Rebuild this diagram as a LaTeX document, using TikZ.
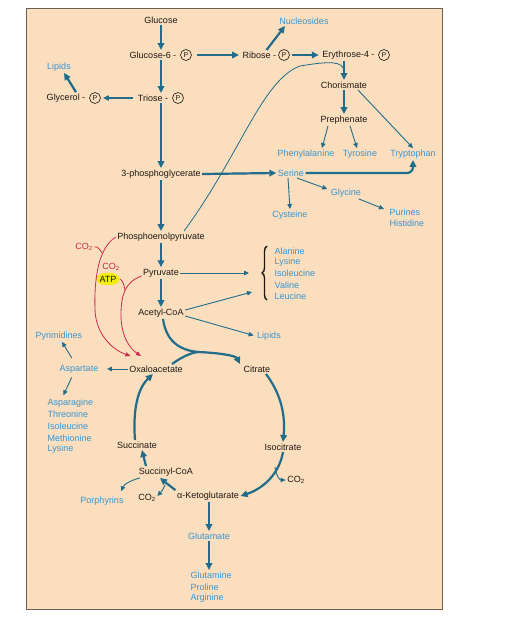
\documentclass[tikz,border=0pt]{standalone}
\usepackage{fontspec}
\setmainfont{Liberation Sans}
\usetikzlibrary{arrows.meta,calc,shapes.geometric,decorations.pathreplacing}
\definecolor{bg}{RGB}{250,222,190}
\definecolor{arr}{RGB}{32,108,138}
\definecolor{txtb}{RGB}{55,150,210}
\definecolor{rd}{RGB}{205,40,75}
\definecolor{frm}{RGB}{110,96,86}
\definecolor{yel}{RGB}{240,235,20}
\definecolor{ink}{RGB}{30,25,20}
\begin{document}
\begin{tikzpicture}[x=1pt,y=-1pt,
  lbl/.style={font=\fontsize{9}{10}\selectfont, text=ink, inner sep=1.5pt},
  blu/.style={lbl, text=txtb},
  rlbl/.style={lbl, text=rd},
  pc/.style={circle, draw=ink, line width=0.6pt, inner sep=0pt, minimum size=11pt, font=\fontsize{7}{8}\selectfont, text=ink},
  thk/.style={draw=arr, line width=2.2pt, -{Triangle[length=7pt,width=6.5pt]}},
  med/.style={draw=arr, line width=1.5pt, -{Triangle[length=6pt,width=5pt]}},
  thn/.style={draw=arr, line width=0.9pt, -{Triangle[length=5pt,width=4.5pt]}},
  rarr/.style={draw=rd, line width=0.8pt, -{Triangle[length=5pt,width=4pt]}},
  bracestyle/.style={draw=ink, line width=1.4pt, decorate, decoration={brace, amplitude=5pt}}
]
\useasboundingbox (0,0) rectangle (511,633);
\fill[bg] (26,8) rectangle (442,609);
\draw[frm, line width=1pt] (26,8) rectangle (442,609);

% ---- nodes ----
\node[lbl] (glc) at (161,20) {Glucose};
\node[lbl] (g6p) at (153,55) {Glucose-6 -};
\node[pc] (g6pP) at (186,55) {P};
\node[lbl] (rib) at (259.5,55) {Ribose -};
\node[pc] (ribP) at (284,55) {P};
\node[lbl] (ery) at (348.5,55) {Erythrose-4 -};
\node[pc] (eryP) at (384,55) {P};
\node[blu] (nuc) at (304,21) {Nucleosides};
\node[lbl] (cho) at (344,85) {Chorismate};
\node[lbl] (pre) at (344,120) {Prephenate};
\node[blu] (phe) at (306,154) {Phenylalanine};
\node[blu] (tyr) at (360,154) {Tyrosine};
\node[blu] (trp) at (413,154) {Tryptophan};
\node[lbl] (tri) at (153,98) {Triose -};
\node[pc] (triP) at (178,98) {P};
\node[lbl] (gly) at (66,98) {Glycerol -};
\node[pc] (glyP) at (95,98) {P};
\node[blu] (lipa) at (59,67) {Lipids};
\node[lbl] (pg) at (161,174) {3-phosphoglycerate};
\node[blu] (ser) at (291,173) {Serine};
\node[blu] (glyc) at (346,193) {Glycine};
\node[blu,anchor=west] (pur) at (388,212) {Purines};
\node[blu,anchor=west] (his) at (388,223) {Histidine};
\node[blu] (cys) at (290,215) {Cysteine};
\node[lbl] (pep) at (161,237) {Phosphoenolpyruvate};
\node[lbl] (pyr) at (161,273) {Pyruvate};
\node[lbl] (aca) at (161,313) {Acetyl-CoA};
\node[blu,anchor=west] (ala) at (273,251) {Alanine};
\node[blu,anchor=west] (lys) at (273,262) {Lysine};
\node[blu,anchor=west] (ile) at (273,273) {Isoleucine};
\node[blu,anchor=west] (val) at (273,285) {Valine};
\node[blu,anchor=west] (leu) at (273,296) {Leucine};
\node[blu] (lipb) at (269,336) {Lipids};
\node[rlbl] (co2a) at (84,247) {CO\textsubscript{2}};
\node[rlbl] (co2b) at (111,267) {CO\textsubscript{2}};
\node[ellipse, fill=yel, inner sep=0pt, minimum width=23pt, minimum height=13pt, font=\fontsize{9}{10}\selectfont, text=ink] (atp) at (108,279) {ATP};
\node[lbl] (oaa) at (156,369) {Oxaloacetate};
\node[lbl] (cit) at (257,369) {Citrate};
\node[blu] (asp) at (79,369) {Aspartate};
\node[blu] (pyrim) at (59,336) {Pyrimidines};
\node[blu,anchor=west] (asn) at (46,403) {Asparagine};
\node[blu,anchor=west] (thr) at (46,414) {Threonine};
\node[blu,anchor=west] (ile2) at (46,426) {Isoleucine};
\node[blu,anchor=west] (met) at (46,438) {Methionine};
\node[blu,anchor=west] (lys2) at (46,449) {Lysine};
\node[lbl] (isc) at (283,447) {Isocitrate};
\node[lbl] (co2c) at (296,480) {CO\textsubscript{2}};
\node[lbl] (akg) at (208,496) {α-Ketoglutarate};
\node[lbl] (scoa) at (166,472) {Succinyl-CoA};
\node[lbl] (suc) at (137,445) {Succinate};
\node[lbl] (co2d) at (147,498) {CO\textsubscript{2}};
\node[blu] (por) at (102,501) {Porphyrins};
\node[blu] (glu) at (209,536) {Glutamate};
\node[blu,anchor=west] (gln) at (189,575) {Glutamine};
\node[blu,anchor=west] (pro) at (189,587) {Proline};
\node[blu,anchor=west] (arg) at (189,598) {Arginine};

% brace
\coordinate (brbot) at (267,300);
\coordinate (brtop) at (267,246);
\draw[bracestyle] (brbot) -- (brtop);

% free-end coordinates
\coordinate (brA) at (249,273);
\coordinate (brB) at (252,292);
\coordinate (jn) at (198,352);
\coordinate (iscbr) at (275,467);
\coordinate (akgbr) at (165,485);
\coordinate (r1) at (130.5,356);
\coordinate (r2) at (141,356);
\coordinate (r1j) at (102,253);
\coordinate (r2j) at (125,290);
\coordinate (chj) at ($(cho.north)+(0,-9)$);

% ---- upper pathways ----
\draw[thk] (glc.south) -- (glc.south |- g6p.north);
\draw[thk] (glc.south |- g6p.south) -- (glc.south |- tri.north);
\draw[thk] (glc.south |- tri.south) -- (glc.south |- pg.north);
\draw[thk, shorten <=5pt, shorten >=2pt] (g6pP.east) -- (rib.west);
\draw[thk, shorten <=2pt, shorten >=2pt] (ribP.east) -- (ery.west);
\draw[thk] ([xshift=7pt]rib.north) -- ([xshift=-19pt]nuc.south);
\draw[thk] (cho.north |- ery.south) -- (cho.north);
\draw[thk] (cho.south) -- (pre.north);
\draw[thn] ([xshift=14pt]cho.south) -- (trp.north);
\draw[thn] ([xshift=-16pt]pre.south) -- ([xshift=16pt]phe.north);
\draw[thn] ([xshift=6pt]pre.south) -- ([xshift=-3pt]tyr.north);
\draw[draw=arr, line width=0.8pt] ([xshift=23pt]pep.north) .. controls (240,155) and (262,80) .. (300,66) .. controls (330,61) and (343,61) .. (chj);
\draw[med, shorten <=3pt, shorten >=2pt] (tri.west) -- (glyP.east);
\draw[thk] ([xshift=10pt]gly.north) -- ([xshift=5pt]lipa.south);
\draw[thk] (pg.east) -- (ser.west);
\draw[thk, rounded corners=6pt] (ser.east) -- (trp.south |- ser.east) -- (trp.south);
\draw[thn] ([xshift=6pt]ser.south) -- ($(glyc.west)+(-2,-4)$);
\draw[thn] ([xshift=-4pt]glyc.south east) -- ($(pur.west)+(-4,-3)$);
\draw[thn] ([xshift=-3pt]ser.south) -- (cys.north);
\draw[thk] (pg.south) -- (pep.north);
\draw[thk] (pep.south) -- (pyr.north);
\draw[thk] (pyr.south) -- (aca.north);
\draw[thn] (pyr.east) -- (brA);
\draw[thn] ([yshift=3pt]aca.east) -- (brB);
\draw[thn, shorten >=2pt] ([yshift=-3pt]aca.east) -- (lipb.west);

% ---- red anaplerotic ----
\draw[rarr] (pep.west) .. controls (98,248) and (94,280) .. (95,310) .. controls (96,335) and (113,350) .. (r1);
\draw[rarr] ([yshift=-3pt]pyr.west) .. controls (125,282) and (121,295) .. (121,315) .. controls (121,335) and (129,348) .. (r2);
\draw[draw=rd, line width=0.8pt] (co2a.east) .. controls (98,246) and (100,250) .. (r1j);
\draw[draw=rd, line width=0.8pt] (atp.east) .. controls (123,281) and (124,285) .. (r2j);

% ---- TCA cycle ----
\draw[draw=arr, line width=2.2pt] ([xshift=16pt]oaa.north) .. controls (182,357) and (190,353) .. (jn);
\draw[thk] ([xshift=2pt]aca.south) .. controls (166,340) and (178,350) .. (jn) .. controls (222,353) and (236,356) .. ([xshift=-2pt]cit.north west);
\draw[thk] ([xshift=9pt]cit.south) .. controls (278,390) and (286,410) .. (isc.north);
\draw[thk] (isc.south) .. controls (279,475) and (262,489) .. (akg.east);
\draw[thn] (iscbr) .. controls (276,476) and (280,480) .. (co2c.west);
\draw[thk] (akg.north west) .. controls (170,486) and (165,482) .. ([xshift=-6pt]scoa.south);
\draw[thn] (akgbr) .. controls (163,490) and (161,492) .. ([yshift=2pt]co2d.east);
\draw[thk] ([xshift=-20pt]scoa.north) -- ([xshift=5pt]suc.south);
\draw[thk] ([xshift=-2pt]suc.north) .. controls (133,415) and (136,390) .. ([xshift=-3pt]oaa.south);
\draw[thn, shorten >=4pt] ([xshift=-26pt]scoa.south) .. controls (132,480) and (124,484) .. ([xshift=18pt]por.north);
\draw[thn, shorten >=7pt] (oaa.west) -- (asp.east);
\draw[thn, shorten <=6pt] ([xshift=-4pt]asp.north) -- ([xshift=3pt]pyrim.south);
\draw[thn, shorten <=3pt, shorten >=2pt] ([xshift=-6pt]asp.south) -- ([xshift=-8pt]asn.north);
\draw[thk] (akg.south -| glu) -- (glu.north);
\draw[thk] (glu.south) -- (glu.south |- gln.north);
\end{tikzpicture}
\end{document}
